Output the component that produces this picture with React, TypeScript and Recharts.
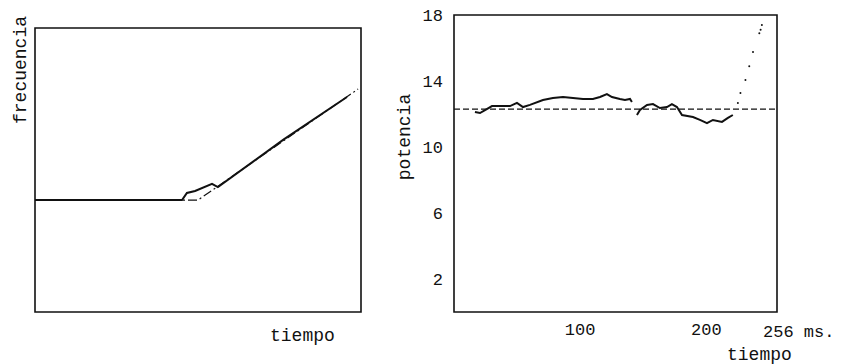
import { ComposedChart, LineChart, Line, Scatter, XAxis, YAxis, ReferenceArea, ReferenceLine } from 'recharts';

// grafico izquierdo: frecuencia (unidades relativas, sin escala)
const tiempoRel = [0, 45.1, 46.6, 49.1, 54.3, 56.1, 76.1, 95.7];
const frecuencia = [39.4, 39.4, 41.9, 42.6, 45.1, 44.0, 60.6, 75.7];
const tiempoAjuste = [0, 50, 99.1];
const frecuenciaAjuste = [39.4, 39.4, 78.5];

// grafico derecho: potencia vs tiempo (ms)
const tiempoMs = [16.6, 20.6, 24.6, 30.1, 36.5, 44.4, 49.9, 54.7, 60.2, 70.5, 78.4, 86.4, 94.3, 102.2, 110.1, 115.7, 121.2, 125.2, 131.5, 135.5, 139.5, 141, 143,
  145, 147.4, 153, 157.7, 163.2, 168.8, 172.7, 176.7, 180.7, 189.4, 194.9, 200.5, 205.2, 212.4, 217.1, 221];
const potencia = [12.12, 12.06, 12.24, 12.48, 12.48, 12.48, 12.67, 12.42, 12.55, 12.85, 12.97, 13.03, 12.97, 12.91, 12.91, 13.03, 13.21, 13.03, 12.91, 12.85, 12.91, 12.73, null,
  11.94, 12.24, 12.55, 12.6, 12.36, 12.42, 12.6, 12.42, 11.94, 11.82, 11.64, 11.45, 11.64, 11.52, 11.76, 11.94];
const tiempoPuntos = [225, 227, 231, 234, 237, 242, 243, 244];
const potenciaPuntos = [12.67, 13.27, 14.06, 14.9, 15.76, 16.9, 17.1, 17.4];
const potenciaMedia = 12.3;
const ticksPotencia = [2, 6, 10, 14, 18];
const ticksTiempo = [100, 200, 256];

const fuente = '"Liberation Mono", "DejaVu Sans Mono", monospace';
const tinta = '#111';

const serieFrec = tiempoRel.map((t, i) => ({ t, f: frecuencia[i] }));
const serieAjuste = tiempoAjuste.map((t, i) => ({ t, f: frecuenciaAjuste[i] }));
const seriePot = tiempoMs.map((t, i) => ({ t, p: potencia[i] }));
const seriePuntos = tiempoPuntos.map((t, i) => ({ t, p: potenciaPuntos[i] }));

const TickTiempo = (props: any) => {
  const { x, y, payload } = props;
  const es256 = payload.value === 256;
  return (
    <text x={es256 ? x - 14 : x} y={es256 ? y + 2 : y} dy="0.71em" textAnchor={es256 ? 'start' : 'middle'}
      fontFamily={fuente} fontSize={17} fill={tinta}>
      {es256 ? '256 ms.' : payload.value}
    </text>
  );
};

const rotado = (left: number, top: number, texto: string) => (
  <div style={{ position: 'absolute', left, top, transform: 'translate(-50%, -50%) rotate(-90deg)', fontFamily: fuente, fontSize: 18, color: tinta, whiteSpace: 'nowrap' }}>
    {texto}
  </div>
);

const plano = (left: number, top: number, texto: string) => (
  <div style={{ position: 'absolute', left, top, fontFamily: fuente, fontSize: 18, color: tinta, whiteSpace: 'nowrap', lineHeight: '18px' }}>
    {texto}
  </div>
);

export default function App() {
  return (
    <div style={{ position: 'absolute', left: 0, top: 0, width: 845, height: 364, background: '#fff', overflow: 'hidden' }}>
      <div style={{ position: 'absolute', left: 0, top: 0 }}>
        <LineChart width={410} height={364} margin={{ left: 35, top: 28, right: 49, bottom: 52 }}>
          <XAxis dataKey="t" type="number" domain={[0, 100]} hide allowDataOverflow />
          <YAxis type="number" domain={[0, 100]} hide allowDataOverflow />
          <ReferenceArea x1={0} x2={100} y1={0} y2={100} fill="none" stroke={tinta} strokeWidth={1.6} />
          <Line data={serieAjuste} dataKey="f" stroke={tinta} strokeWidth={1.2} strokeDasharray="9 3 2 3" dot={false} isAnimationActive={false} />
          <Line data={serieFrec} dataKey="f" stroke={tinta} strokeWidth={2} dot={false} isAnimationActive={false} />
        </LineChart>
      </div>
      <div style={{ position: 'absolute', left: 420, top: 0 }}>
        <ComposedChart width={425} height={364} margin={{ left: 0, top: 15, right: 68, bottom: 22 }}>
          <XAxis dataKey="t" type="number" domain={[0, 256]} ticks={ticksTiempo} axisLine={false} tickLine={false} tickMargin={5} height={30} tick={<TickTiempo />} allowDataOverflow />
          <YAxis type="number" domain={[0, 18]} ticks={ticksPotencia} axisLine={false} tickLine={false} tickSize={0} tickMargin={11} width={34}
            tick={{ fontFamily: fuente, fontSize: 17, fill: tinta }} allowDataOverflow />
          <ReferenceArea x1={0} x2={256} y1={0} y2={18} fill="none" stroke={tinta} strokeWidth={1.6} />
          <ReferenceLine y={potenciaMedia} stroke={tinta} strokeWidth={1.3} strokeDasharray="6 3" />
          <Line data={seriePot} dataKey="p" stroke={tinta} strokeWidth={2} dot={false} connectNulls={false} isAnimationActive={false} />
          <Scatter data={seriePuntos} dataKey="p" fill={tinta} shape={(p: any) => <circle cx={p.cx} cy={p.cy} r={1} fill={tinta} />} isAnimationActive={false} />
        </ComposedChart>
      </div>
      {rotado(21, 70, 'frecuencia')}
      {plano(270, 327, 'tiempo')}
      {rotado(405, 137, 'potencia')}
      {plano(727, 346, 'tiempo')}
    </div>
  );
}
